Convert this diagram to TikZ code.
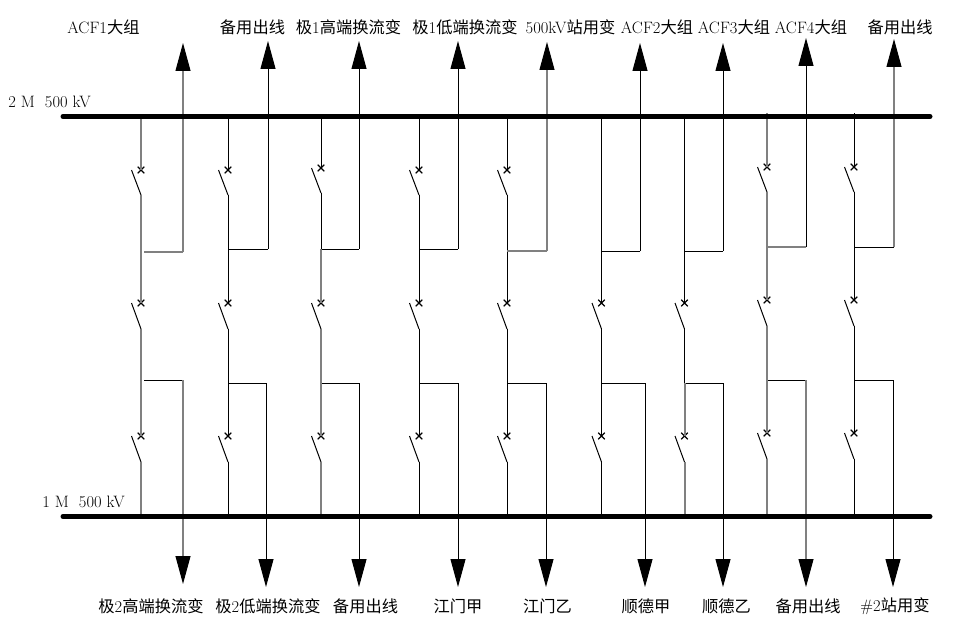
\documentclass[tikz,border=0pt]{standalone}
\usepackage{fontspec}
\usetikzlibrary{arrows.meta,shapes.misc}
\setmainfont{Latin Modern Roman}
\newfontfamily\cjk[Scale=0.985]{Noto Sans CJK SC}
\newcommand{\zh}[1]{{\cjk #1}}
\begin{document}
\begin{tikzpicture}[x=1pt, y=-1pt, thick,
        main/.style = {inner sep=0pt, font=\fontsize{16.5}{18}\selectfont},
        bar/.style = {line width=5pt, line cap=round},
        wire/.style = {line width=1pt},
        greywire/.style = {line width=2pt, color=black!50},
        blade/.style = {line width=1pt},
        crossmark/.style = {draw, cross out, line width=1.1pt, minimum size=5.5pt, inner sep=0pt},
        feeder/.style = {line width=1pt, -{Triangle[length=28pt,width=15pt]}}]
    \useasboundingbox (0,0) rectangle (967,626);

    \foreach \n/\xs/\xt/\xl/\ya/\yt/\yl/\dy/\yz/\gp in {
            1/141/183/183/43/252/380/0/584/3,
            2/228/268/266/41/249/383/0/587/0,
            3/321/359/359/41/249/383/0/587/0,
            4/419/458/458/41/249/383/0/587/0,
            5/507/547/546/42/251/383/0/587/0,
            6/601.5/640/645/43/251/383/0/587/0,
            7/684.5/723/723/43/251/383/0/587/0,
            8/767/806/806/38/247/380/-3/587/0,
            9/854/894/893/39/247/380/-3/587/0} {
        \coordinate (bus\n)  at (\xs,116+\dy);
        \coordinate (top\n)  at (\xs,\yt);
        \coordinate (low\n)  at (\xs,\yl);
        \coordinate (end\n)  at (\xs,516);
        \coordinate (hmid\n) at (\xs,329+\dy);
        \coordinate (hlow\n) at (\xs,462+\dy);
        \coordinate (ta\n)   at (\xs+\gp,\yt);
        \coordinate (la\n)   at (\xs+\gp,\yl);
        \coordinate (tb\n)   at (\xt,\yt);
        \coordinate (lb\n)   at (\xl,\yl);
        \coordinate (tbase\n) at (\xt,\ya+28);
        \coordinate (lbase\n) at (\xl,\yz-28);
        \coordinate (ttip\n) at (\xt,\ya);
        \coordinate (ltip\n) at (\xl,\yz);
        \node[crossmark] (xmid\n) at (\xs,303+\dy) {};
        \node[crossmark] (xlow\n) at (\xs,436+\dy) {};

        \draw[wire] (top\n) -- (xmid\n.center);
        \draw[wire] (hmid\n) -- (xlow\n.center);
        \draw[wire] (hlow\n) -- (end\n);
        \draw[blade] (hmid\n) -- ++(-9.5,-26);
        \draw[blade] (hlow\n) -- ++(-9.5,-26);
        \draw[wire] (ta\n) -- (tb\n);
        \draw[wire] (la\n) -- (lb\n);
        \draw[feeder] (tb\n) -- (ttip\n);
        \draw[feeder] (lb\n) -- (ltip\n);
    }

    \foreach \n/\yc in {1/170, 2/170, 3/168, 4/170, 5/170, 8/167, 9/167} {
        \node[crossmark] (xtop\n) at (bus\n |- 0,\yc) {};
        \coordinate (htop\n) at (bus\n |- 0,\yc+25);
        \draw[wire] (bus\n) -- (xtop\n.center);
        \draw[wire] (htop\n) -- (top\n);
        \draw[blade] (htop\n) -- ++(-9.5,-25);
    }
    \draw[wire] (bus6) -- (top6);
    \draw[wire] (bus7) -- (top7);

    \foreach \a/\b in {bus1/xtop1, htop1/top1, top1/xmid1, hmid1/xlow1, hlow1/end1,
            ta1/tb1, tb1/tbase1, lb1/lbase1,
            top3/xmid3, hmid3/xlow3, hlow3/end3,
            ta5/tb5, tb5/tbase5,
            low7/xlow7, hlow7/end7,
            bus8/xtop8, htop8/top8, top8/xmid8, hmid8/xlow8, hlow8/end8,
            ta8/tb8, lb8/lbase8,
            tb9/tbase9} {
        \draw[greywire] (\a.center) -- (\b.center);
    }

    \coordinate (busa) at (63,116.5);
    \coordinate (busb) at (930,116.5);
    \coordinate (busc) at (63,516.5);
    \coordinate (busd) at (930,516.5);
    \draw[bar] (busa) -- (busb);
    \draw[bar] (busc) -- (busd);

    \node[main, anchor=west] (name2) at (8,102) {2 M\ \ 500 kV};
    \node[main, anchor=west] (name1) at (42,502) {1 M\ \ 500 kV};

    \foreach \n/\x/\t in {1/103.5/ACF1\zh{大组}, 2/252.5/\zh{备用出线}, 3/348.5/\zh{极}1\zh{高端换流变},
            4/465/\zh{极}1\zh{低端换流变}, 5/570.5/500kV\zh{站用变}, 6/657/ACF2\zh{大组},
            7/734/ACF3\zh{大组}, 8/811/ACF4\zh{大组}, 9/900/\zh{备用出线}} {
        \node[main] (up\n) at (\x,27) {\t};
    }
    \foreach \n/\x/\t in {1/151/\zh{极}2\zh{高端换流变}, 2/268/\zh{极}2\zh{低端换流变}, 3/365.5/\zh{备用出线},
            4/458/\zh{江门甲}, 5/547.5/\zh{江门乙}, 6/646/\zh{顺德甲},
            7/726.5/\zh{顺德乙}, 8/808/\zh{备用出线}, 9/895/\#2\zh{站用变}} {
        \node[main] (dn\n) at (\x,606) {\t};
    }
\end{tikzpicture}
\end{document}
